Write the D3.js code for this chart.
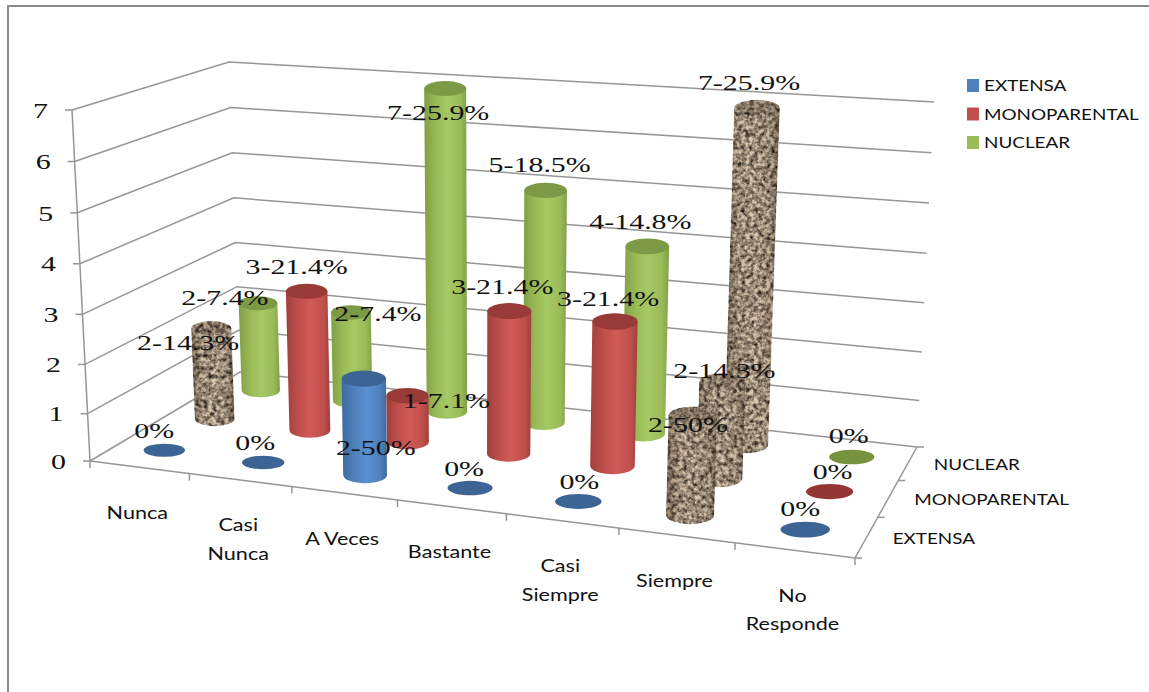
<!DOCTYPE html>
<html><head><meta charset="utf-8">
<script src="https://cdn.jsdelivr.net/npm/d3@7/dist/d3.min.js"></script>
<style>html,body{margin:0;padding:0;background:#fff;overflow:hidden}svg{display:block}</style>
</head><body>
<svg id="chart" width="1149" height="692"></svg>
<script>
// ---------- data ----------
const categories = [["Nunca"],["Casi","Nunca"],["A Veces"],["Bastante"],["Casi","Siempre"],["Siempre"],["No","Responde"]];
const seriesNames = ["EXTENSA","MONOPARENTAL","NUCLEAR"];
const extensa      = [0,0,2,0,0,2,0];
const monoparental = [2,3,1,3,3,2,0];
const nuclear      = [2,2,7,5,4,7,0];
const extensaPct      = ["0","0","50","0","0","50","0"];
const monoparentalPct = ["14.3","21.4","7.1","21.4","21.4","14.3","0"];
const nuclearPct      = ["7.4","7.4","25.9","18.5","14.8","25.9","0"];
const valueTicks = [0,1,2,3,4,5,6,7];
const texturedExtensa      = [0,0,0,0,0,1,0];
const texturedMonoparental = [1,0,0,0,0,1,0];
const texturedNuclear      = [0,0,0,0,0,1,0];

// ---------- layout ----------
const seriesValues = [extensa, monoparental, nuclear];
const seriesPct = [extensaPct, monoparentalPct, nuclearPct];
const seriesTex = [texturedExtensa, texturedMonoparental, texturedNuclear];
const fills = [
  {c:"#4f81bd", l:"#5a90d0", d:"#3d6a9f", top:"#3c6494", zero:"#3c6494"},
  {c:"#c0504d", l:"#d05a56", d:"#a03f3c", top:"#983a38", zero:"#943634"},
  {c:"#9bbb59", l:"#a6c964", d:"#7f9f45", top:"#7c9a45", zero:"#76923c"}];
// hand placement of the data labels relative to each cylinder's top centre
const labelNudges = [
  [[-10,-20],[-8,-20],[12,67],[-6,-20],[1,-20],[-5,8],[-5,-21]],
  [[-23,12],[-10,-25],[39,1],[-7,-25],[-7,-23],[2,-13],[3,-20]],
  [[-33,-8],[27,-1],[-7,24],[-6,-26],[-7,-25],[-8,-26],[-3,-22]]];

const floorQuad = [[90,461],[855,558],[917,447],[240,372]]; // front-left, front-right, back-right, back-left
const leanAt7   = [-18,18,17,-11];     // horizontal lean of a full-height upright at those corners
const heightAt7 = [351,378,345,310];   // screen height of a full-height upright at those corners
const catCentre = .48, catHalf = .21;

function homography(q){
  const [[x0,y0],[x1,y1],[x2,y2],[x3,y3]] = q;
  const dx1=x1-x2,dx2=x3-x2,sx=x0-x1+x2-x3,dy1=y1-y2,dy2=y3-y2,sy=y0-y1+y2-y3;
  const den=dx1*dy2-dx2*dy1;
  const g=(sx*dy2-dx2*sy)/den,h=(dx1*sy-sx*dy1)/den;
  const a=x1-x0+g*x1,b=x3-x0+h*x3,c=x0,d=y1-y0+g*y1,e=y3-y0+h*y3,f=y0;
  return (u,w)=>{const k=g*u+h*w+1;return [(a*u+b*w+c)/k,(d*u+e*w+f)/k];};
}
const hFloor=homography(floorQuad);
const catScale=d3.scaleLinear().domain([0,categories.length]).range([0,1]);
const depthScale=d3.scaleLinear().domain([0,seriesNames.length]).range([0,1]);
const valScale=d3.scalePow().exponent(1.03).domain([0,7]).range([0,1]);
const labelScale=d3.scaleLinear().domain([0,7]).range([0,1]);
const bilinear=(c,u,w)=>(c[0]*(1-u)+c[1]*u)*(1-w)+(c[3]*(1-u)+c[2]*u)*w;
function project(cat,depth,val,scale){
  const u=catScale(cat),w=depthScale(depth),t=(scale||valScale)(val);
  const a=hFloor(u,w);
  return [a[0]+bilinear(leanAt7,u,w)*t,a[1]-bilinear(heightAt7,u,w)*t];
}
// cylinders stop slightly short of their gridline, more so for tall ones
function cylTop(c,s,v){
  const p=project(c+catCentre,s+.5,v);
  return [p[0],p[1]+Math.max(0,v-1)];
}
function labelAnchor(c,s,v){
  const p=project(c+catCentre,s+.5,v,labelScale);
  return v>0?[p[0],p[1]+6]:p;
}

const svg=d3.select("#chart");
const defs=svg.append("defs");
fills.forEach((f,i)=>{
  const g=defs.append("linearGradient").attr("id","cyl"+i);
  [[0,f.d],[.3,f.c],[.55,f.l],[.85,f.c],[1,f.d]].forEach(s=>g.append("stop").attr("offset",s[0]).attr("stop-color",s[1]));
});
const gb=defs.append("linearGradient").attr("id","cylTex");
[[0,"#94846f"],[.25,"#cfbea8"],[.55,"#d9c9b4"],[.85,"#c5b49e"],[1,"#8a7a66"]].forEach(s=>gb.append("stop").attr("offset",s[0]).attr("stop-color",s[1]));
const flt=defs.append("filter").attr("id","granite").attr("x",0).attr("y",0).attr("width","100%").attr("height","100%").attr("color-interpolation-filters","sRGB");
flt.append("feTurbulence").attr("type","fractalNoise").attr("baseFrequency",.24).attr("numOctaves",3).attr("seed",4).attr("result","n");
flt.append("feColorMatrix").attr("in","n").attr("type","matrix")
  .attr("values","1.1 1.1 0 0 -0.38  1.1 1.1 0 0 -0.40  1.1 1.1 0 0 -0.42  0 0 0 0 1").attr("result","s");
flt.append("feBlend").attr("in","SourceGraphic").attr("in2","s").attr("mode","multiply").attr("result","m");
flt.append("feGaussianBlur").attr("in","m").attr("stdDeviation",.5).attr("result","b");
flt.append("feComposite").attr("in","b").attr("in2","SourceGraphic").attr("operator","in");

// frame
svg.append("rect").attr("x",8).attr("y",6).attr("width",1300).attr("height",900)
  .attr("fill","none").attr("stroke","#8c8c8c").attr("stroke-width",2);

// grid
const gridColor="#969696";
const line=d3.line();
const nC=categories.length,nS=seriesNames.length;
const grid=svg.append("g").attr("fill","none").attr("stroke",gridColor).attr("stroke-width",1.5);
grid.selectAll("path.g").data(valueTicks).join("path").attr("class","g")
  .attr("d",v=>line([project(0,0,v),project(0,nS,v),project(nC,nS,v)]));
grid.append("path").attr("d",line([project(0,0,0),project(0,0,7)]));
grid.append("path").attr("d",line([project(0,0,0),project(nC,0,0),project(nC,nS,0)]));
grid.selectAll("path.vt").data(valueTicks).join("path").attr("class","vt")
  .attr("d",v=>{const p=project(0,0,v);return line([[p[0]-7,p[1]],p]);});
grid.selectAll("path.ct").data(d3.range(0,nC+1)).join("path").attr("class","ct")
  .attr("d",i=>{const p=project(i,0,0);return line([p,[p[0],p[1]+7]]);});
grid.selectAll("path.dt").data(d3.range(0,nS+1)).join("path").attr("class","dt")
  .attr("d",i=>{const p=project(nC,i,0);return line([p,[p[0]+7,p[1]]]);});

// text helper
function stretched(sel,x,y,str,font,size,sx,anchor,fill){
  return sel.append("text").attr("transform",`translate(${x},${y}) scale(${sx},1)`)
    .attr("font-family",font).attr("font-size",size).attr("text-anchor",anchor||"middle")
    .attr("dy",".35em").attr("fill",fill||"#111").text(str);
}
const SERIF="'Liberation Serif',serif", SANS="Lato,'Noto Sans',sans-serif";

// cylinders: back row first
const marks=svg.append("g");
d3.range(nS-1,-1,-1).forEach(s=>{
  d3.range(0,nC).forEach(c=>{
    const v=seriesValues[s][c];
    const base=project(c+catCentre,s+.5,0), top=cylTop(c,s,v);
    const bl=project(c+catCentre-catHalf,s+.5,0), br=project(c+catCentre+catHalf,s+.5,0);
    const rx=Math.hypot(br[0]-bl[0],br[1]-bl[1])/2, ry=rx*.37;
    const f=fills[s], tex=seriesTex[s][c];
    if(v===0){
      marks.append("ellipse").attr("cx",base[0]).attr("cy",base[1]).attr("rx",rx).attr("ry",rx*.32).attr("fill",f.zero);
      return;
    }
    const tl=project(c+catCentre-catHalf,s+.5,v), tr=project(c+catCentre+catHalf,s+.5,v);
    const rt=Math.hypot(tr[0]-tl[0],tr[1]-tl[1])/2;
    const g=marks.append("g");
    const body=`M${top[0]-rt},${top[1]}L${base[0]-rx},${base[1]}A${rx},${ry} 0 0 0 ${base[0]+rx},${base[1]}L${top[0]+rt},${top[1]}Z`;
    g.append("path").attr("d",body).attr("fill",tex?"url(#cylTex)":`url(#cyl${s})`)
      .attr("filter",tex?"url(#granite)":null);
    g.append("ellipse").attr("cx",top[0]).attr("cy",top[1]).attr("rx",rt).attr("ry",ry)
      .attr("fill",tex?"#b3a28e":f.top).attr("filter",tex?"url(#granite)":null);
  });
});

// data labels
const labels=svg.append("g");
d3.range(nS).forEach(s=>d3.range(nC).forEach(c=>{
  const v=seriesValues[s][c], a=labelAnchor(c,s,v), n=labelNudges[s][c];
  const str=v===0?"0%":`${v}-${seriesPct[s][c]}%`;
  stretched(labels,a[0]+n[0],a[1]+n[1],str,SERIF,22,1.36);
}));

// value axis labels
valueTicks.forEach(v=>{
  const p=project(0,0,v);
  stretched(svg,p[0]-24,p[1],String(v),SERIF,22,1.36,"end");
});
// category labels
categories.forEach((lines,i)=>{
  const p=project(i+.5,0,0);
  lines.forEach((t,k)=>stretched(svg,p[0]-2,p[1]+45+k*28.5,t,SANS,18,1.2));
});
// depth labels
seriesNames.forEach((t,i)=>{
  const p=project(nC,i+.5,0);
  stretched(svg,p[0]+26,p[1]+1,t,SANS,16,1.18,"start");
});
// legend
seriesNames.forEach((t,i)=>{
  const y=85.5+i*28.5;
  svg.append("rect").attr("x",967).attr("y",y-6.5).attr("width",12).attr("height",13).attr("fill",fills[i].c);
  stretched(svg,984,y,t,SANS,16,1.18,"start");
});
</script>
</body></html>
